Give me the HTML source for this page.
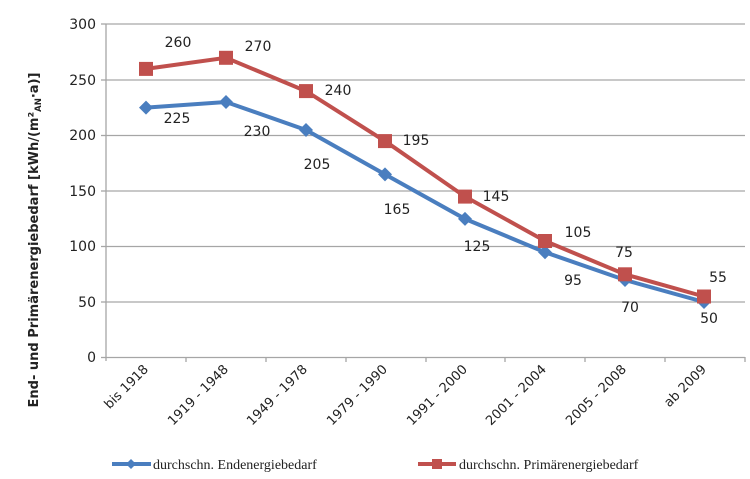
<!DOCTYPE html>
<html><head><meta charset="utf-8"><style>
body{margin:0;background:#fff}
svg{display:block;font-family:"DejaVu Sans","Liberation Sans",sans-serif}
</style></head><body>
<svg width="750" height="479" viewBox="0 0 750 479">
<g stroke="#a6a6a6" stroke-width="1.3">
<line x1="106" y1="24" x2="745" y2="24"/>
<line x1="106" y1="80" x2="745" y2="80"/>
<line x1="106" y1="135.5" x2="745" y2="135.5"/>
<line x1="106" y1="191" x2="745" y2="191"/>
<line x1="106" y1="246.5" x2="745" y2="246.5"/>
<line x1="106" y1="302" x2="745" y2="302"/>
<line x1="106" y1="357.5" x2="745" y2="357.5"/>
<line x1="106" y1="24" x2="106" y2="361"/>
<line x1="101" y1="24" x2="106" y2="24"/><line x1="101" y1="80" x2="106" y2="80"/><line x1="101" y1="135.5" x2="106" y2="135.5"/><line x1="101" y1="191" x2="106" y2="191"/><line x1="101" y1="246.5" x2="106" y2="246.5"/><line x1="101" y1="302" x2="106" y2="302"/><line x1="101" y1="357.5" x2="106" y2="357.5"/>
<line x1="186" y1="357" x2="186" y2="362"/><line x1="266" y1="357" x2="266" y2="362"/><line x1="346" y1="357" x2="346" y2="362"/><line x1="426" y1="357" x2="426" y2="362"/><line x1="505" y1="357" x2="505" y2="362"/><line x1="585" y1="357" x2="585" y2="362"/><line x1="665" y1="357" x2="665" y2="362"/><line x1="745" y1="357" x2="745" y2="362"/>
</g>
<g font-size="14" fill="#222" text-anchor="end">
<text x="96" y="29">300</text><text x="96" y="85">250</text><text x="96" y="140">200</text><text x="96" y="196">150</text><text x="96" y="251">100</text><text x="96" y="307">50</text><text x="96" y="362">0</text>
</g>
<text transform="translate(38,240) rotate(-90)" text-anchor="middle" font-size="13" font-weight="bold" fill="#222">End- und Primärenergiebedarf [kWh/(m²<tspan font-size="8.5" dy="3">AN</tspan><tspan dy="-3">·a)]</tspan></text>
<g font-size="13" fill="#222" text-anchor="end">
<text transform="translate(149,370) rotate(-45)">bis 1918</text>
<text transform="translate(229,370) rotate(-45)">1919 - 1948</text>
<text transform="translate(308,370) rotate(-45)">1949 - 1978</text>
<text transform="translate(388,370) rotate(-45)">1979 - 1990</text>
<text transform="translate(468,370) rotate(-45)">1991 - 2000</text>
<text transform="translate(547,370) rotate(-45)">2001 - 2004</text>
<text transform="translate(627,370) rotate(-45)">2005 - 2008</text>
<text transform="translate(707,370) rotate(-45)">ab 2009</text>
</g>
<polyline fill="none" stroke="#4a7ebf" stroke-width="4" points="146,107.6 226,102 306,130 385,174.4 465,218.9 545,252.2 625,280 704,302"/>
<g fill="#4a7ebf">
<path d="M146,100.6l7,7l-7,7l-7,-7z"/><path d="M226,95l7,7l-7,7l-7,-7z"/><path d="M306,123l7,7l-7,7l-7,-7z"/><path d="M385,167.4l7,7l-7,7l-7,-7z"/><path d="M465,211.9l7,7l-7,7l-7,-7z"/><path d="M545,245.2l7,7l-7,7l-7,-7z"/><path d="M625,273l7,7l-7,7l-7,-7z"/><path d="M704,295l7,7l-7,7l-7,-7z"/>
</g>
<polyline fill="none" stroke="#c0504d" stroke-width="4" points="146,68.9 226,57.8 306,91.1 385,141.1 465,196.6 545,241 625,274.3 704,296.5"/>
<g fill="#c0504d">
<rect x="139" y="61.9" width="14" height="14"/><rect x="219" y="50.8" width="14" height="14"/><rect x="299" y="84.1" width="14" height="14"/><rect x="378" y="134.1" width="14" height="14"/><rect x="458" y="189.6" width="14" height="14"/><rect x="538" y="234" width="14" height="14"/><rect x="618" y="267.3" width="14" height="14"/><rect x="697" y="289.5" width="14" height="14"/>
</g>
<g font-size="14" fill="#222" text-anchor="middle">
<text x="178" y="47">260</text><text x="258" y="51">270</text><text x="338" y="95">240</text><text x="416" y="145">195</text><text x="496" y="201">145</text><text x="578" y="237">105</text><text x="624" y="257">75</text><text x="718" y="282">55</text>
<text x="177" y="123">225</text><text x="257" y="136">230</text><text x="317" y="169">205</text><text x="397" y="214">165</text><text x="477" y="251">125</text><text x="573" y="285">95</text><text x="630" y="312">70</text><text x="709" y="323">50</text>
</g>
<line x1="112" y1="464" x2="151" y2="464" stroke="#4a7ebf" stroke-width="4"/>
<path d="M131,459l5,5l-5,5l-5,-5z" fill="#4a7ebf"/>
<text x="153" y="469" font-family="Liberation Serif,serif" font-size="14" fill="#222">durchschn. Endenergiebedarf</text>
<line x1="418" y1="464" x2="456" y2="464" stroke="#c0504d" stroke-width="4"/>
<rect x="432" y="459" width="10" height="10" fill="#c0504d"/>
<text x="459" y="469" font-family="Liberation Serif,serif" font-size="14" fill="#222">durchschn. Primärenergiebedarf</text>
</svg>
</body></html>
